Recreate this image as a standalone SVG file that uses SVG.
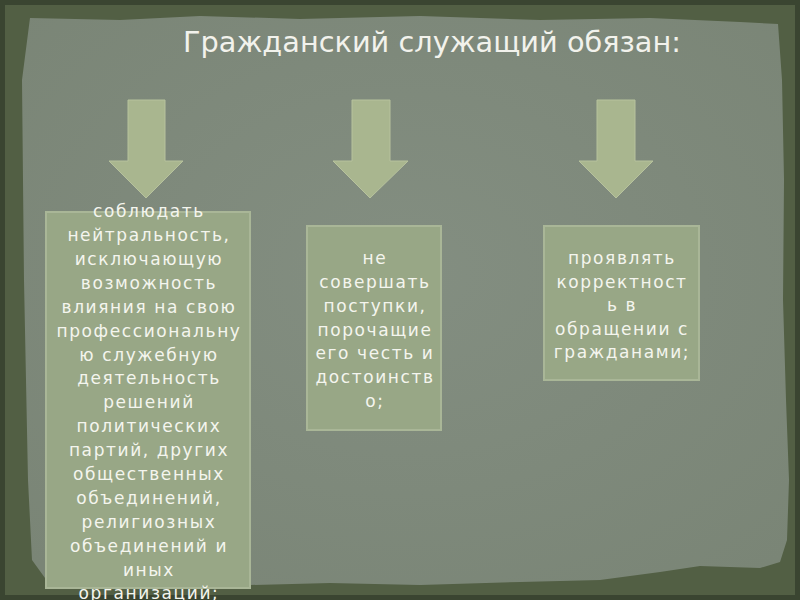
<svg xmlns="http://www.w3.org/2000/svg" width="800" height="600" viewBox="0 0 800 600">
<defs>
<style>
.title{font-family:"DejaVu Sans",sans-serif;font-size:29px;fill:#f2f2ec}
.t{font-family:"DejaVu Sans",sans-serif;font-size:17px;fill:#f4f5ee;text-anchor:middle;letter-spacing:1.6px}
.box{fill:#98a786;stroke:#a9b697;stroke-width:2}
.arrow{fill:#a9b68f;stroke:#b7c29d;stroke-width:1}
</style>
<radialGradient id="pg" cx="0.5" cy="0.45" r="0.7">
<stop offset="0" stop-color="#838e81"/>
<stop offset="1" stop-color="#7a8576"/>
</radialGradient>
</defs>
<rect x="0" y="0" width="800" height="600" fill="#525f44"/>
<rect x="0" y="0" width="800" height="600" fill="none" stroke="#3a4531" stroke-width="10"/>
<path d="M30,18 L120,20 L200,16 L300,19 L420,16 L540,20 L650,18 L740,22 L778,24 L782,80 L784,180 L783,300 L786,400 L789,480 L787,540 L780,562 L760,568 L700,566 L660,572 L600,580 L520,582 L420,585 L330,583 L250,585 L150,586 L80,583 L45,578 L32,560 L28,480 L26,380 L24,280 L23,180 L22,80 Z" fill="url(#pg)"/>
<text class="title" x="183" y="52" textLength="498" lengthAdjust="spacingAndGlyphs">Гражданский служащий обязан:</text>
<g id="connectors">
<path class="arrow" d="M128,100 H165 V161 H183 L146,198 L109,161 H128 Z"/>
<path class="arrow" d="M352,100 H390 V161 H408 L370,198 L333,161 H352 Z"/>
<path class="arrow" d="M597,100 H635 V161 H653 L616,198 L579,161 H597 Z"/>
</g>
<g id="node1">
<rect class="box" x="46" y="212" width="204" height="376"/>
<text class="t" x="149" y="217">соблюдать</text>
<text class="t" x="149" y="241">нейтральность,</text>
<text class="t" x="149" y="265">исключающую</text>
<text class="t" x="149" y="289">возможность</text>
<text class="t" x="149" y="313">влияния на свою</text>
<text class="t" x="149" y="337">профессиональну</text>
<text class="t" x="149" y="361">ю служебную</text>
<text class="t" x="149" y="384">деятельность</text>
<text class="t" x="149" y="408">решений</text>
<text class="t" x="149" y="432">политических</text>
<text class="t" x="149" y="456">партий, других</text>
<text class="t" x="149" y="480">общественных</text>
<text class="t" x="149" y="504">объединений,</text>
<text class="t" x="149" y="528">религиозных</text>
<text class="t" x="149" y="552">объединений и</text>
<text class="t" x="149" y="576">иных</text>
<text class="t" x="149" y="599">организаций;</text>
</g>
<g id="node2">
<rect class="box" x="307" y="226" width="134" height="204"/>
<text class="t" x="375" y="264">не</text>
<text class="t" x="375" y="288">совершать</text>
<text class="t" x="375" y="312">поступки,</text>
<text class="t" x="375" y="336">порочащие</text>
<text class="t" x="375" y="359">его честь и</text>
<text class="t" x="375" y="383">достоинств</text>
<text class="t" x="375" y="407">о;</text>
</g>
<g id="node3">
<rect class="box" x="544" y="226" width="155" height="154"/>
<text class="t" x="622" y="264">проявлять</text>
<text class="t" x="622" y="288">корректност</text>
<text class="t" x="622" y="311">ь в</text>
<text class="t" x="622" y="335">обращении с</text>
<text class="t" x="622" y="358">гражданами;</text>
</g>
</svg>
